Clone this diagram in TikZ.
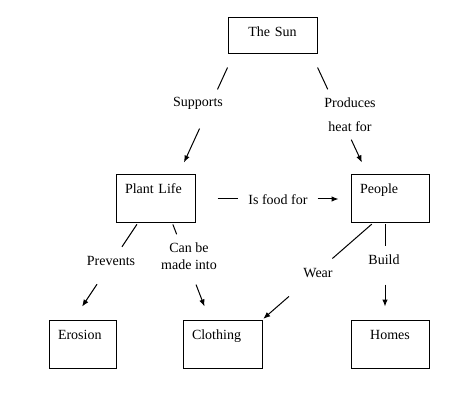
\documentclass[tikz,border=0pt]{standalone}
\usepackage{fontspec}
\setmainfont{Liberation Serif}
\usetikzlibrary{arrows.meta}

\tikzset{
    box/.style={draw, line width=1pt, minimum height=48pt, inner xsep=9pt, inner ysep=0pt,
        text height=10pt, text depth=20pt, align=left},
    arr/.style={-{Latex[length=7pt,width=5.5pt]}},
    lnk/.style={line width=1pt}
}

\begin{document}
\begin{tikzpicture}[x=1pt, y=-1pt, font=\fontsize{14}{17}\selectfont]
    \useasboundingbox (0,0) rectangle (474,414);

    % Boxes
    \node[box, text width=71pt, minimum height=36pt, text depth=8pt, align=center] (sun) at (272.5,36) {The Sun};
    \foreach \name/\x/\y/\w/\txt in {plant/155.5/199/61/Plant Life, people/390/199/60/People,
        erosion/82.5/344/49/Erosion, clothing/222.5/344/61/Clothing} {
        \node[box, text width=\w pt] (\name) at (\x,\y) {\txt};
    }
    \node[box, text width=60pt, align=center] (homes) at (390,344) {Homes};

    % Link labels
    \node (sup) at (198,103) {Supports};
    \node[align=center] (prod) at (350,115) {Produces\\[7pt]heat for};
    \node (food) at (278,200) {Is food for};
    \node (prev) at (111,261) {Prevents};
    \node[align=center] (made) at (189,256.5) {Can be\\made into};
    \node (wear) at (318,273) {Wear};
    \node (build) at (384,260) {Build};

    % Sun -> Plant Life
    \draw[lnk, shorten <=14.3pt, shorten >=93.6pt] ([xshift=6pt]sun.south west) -- ([xshift=-17pt]plant.north east);
    \draw[lnk, arr, shorten <=81.5pt, shorten >=13.2pt] ([xshift=6pt]sun.south west) -- ([xshift=-17pt]plant.north east);

    % Sun -> People
    \draw[lnk, shorten <=14.4pt, shorten >=94pt] ([xshift=-6pt]sun.south east) -- ([xshift=17pt]people.north west);
    \draw[lnk, arr, shorten <=94pt, shorten >=13.3pt] ([xshift=-6pt]sun.south east) -- ([xshift=17pt]people.north west);

    % Plant Life -> People
    \draw[lnk, shorten <=22pt, shorten >=113pt] (plant.east) -- (people.west);
    \draw[lnk, arr, shorten <=122pt, shorten >=12pt] (plant.east) -- (people.west);

    % Plant Life -> Erosion
    \draw[lnk, shorten <=1pt, shorten >=87.3pt] ([xshift=22pt]plant.south west) -- ([xshift=25pt]erosion.north west);
    \draw[lnk, arr, shorten <=73pt, shorten >=15.5pt] ([xshift=22pt]plant.south west) -- ([xshift=25pt]erosion.north west);

    % Plant Life -> Clothing
    \draw[lnk, shorten <=1pt, shorten >=91.3pt] ([xshift=-23pt]plant.south east) -- ([xshift=27pt]clothing.north west);
    \draw[lnk, arr, shorten <=65.5pt, shorten >=14pt] ([xshift=-23pt]plant.south east) -- ([xshift=27pt]clothing.north west);

    % People -> Clothing
    \draw[lnk, shorten <=1pt, shorten >=92.7pt] ([xshift=22pt]people.south west) -- (clothing.north east);
    \draw[lnk, arr, shorten <=110.9pt, shorten >=1pt] ([xshift=22pt]people.south west) -- (clothing.north east);

    % People -> Homes
    \draw[lnk, shorten <=1pt, shorten >=73pt] ([xshift=-5pt]people.south) -- ([xshift=-5pt]homes.north);
    \draw[lnk, arr, shorten <=61pt, shorten >=13pt] ([xshift=-5pt]people.south) -- ([xshift=-5pt]homes.north);
\end{tikzpicture}
\end{document}
